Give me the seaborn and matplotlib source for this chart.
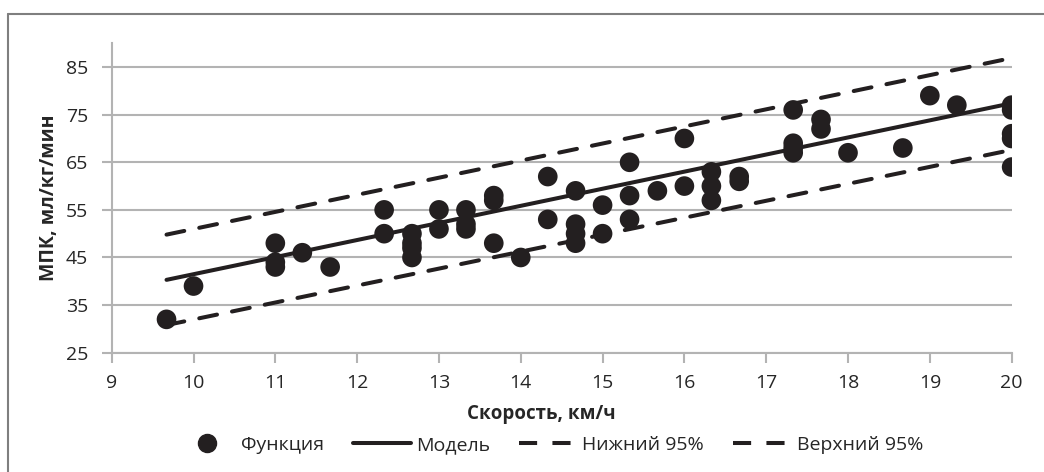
import numpy as np
import pandas as pd
import seaborn as sns
import matplotlib.pyplot as plt
from matplotlib.lines import Line2D

# measured points: speed (km/h) and VO2max (ml/kg/min)
speed = [9.67, 10, 11, 11, 11, 11.33, 11.67, 12.33, 12.33,
         12.67, 12.67, 12.67, 12.67, 13, 13, 13.33, 13.33, 13.33,
         13.67, 13.67, 13.67, 14, 14.33, 14.33, 14.67, 14.67, 14.67, 14.67,
         15, 15, 15.33, 15.33, 15.33, 15.67, 16, 16, 16.33, 16.33, 16.33,
         16.67, 16.67, 17.33, 17.33, 17.33, 17.33, 17.67, 17.67, 18, 18.67,
         19, 19.33, 20, 20, 20, 20, 20]
vo2 = [32, 39, 48, 44, 43, 46, 43, 55, 50,
       50, 48, 47, 45, 55, 51, 55, 52, 51,
       58, 57, 48, 45, 62, 53, 59, 52, 50, 48,
       56, 50, 65, 58, 53, 59, 70, 60, 63, 60, 57,
       62, 61, 76, 69, 68, 67, 74, 72, 67, 68,
       79, 77, 77, 76, 71, 70, 64]

# model line and 95% bounds (end points)
line_x = [9.67, 20]
model_y = [40.3, 77.4]
lower_y = [30.8, 67.6]
upper_y = [49.8, 86.9]

xticks = list(range(9, 21))
yticks = [25, 35, 45, 55, 65, 75, 85]

sns.set_theme(style="white")
plt.rcParams['font.family'] = ['Open Sans', 'DejaVu Sans']

black = '#231f20'
grey = '#b3b3b3'

pts = pd.DataFrame({'x': speed, 'y': vo2})
lines = pd.DataFrame({'x': line_x, 'model': model_y, 'lower': lower_y, 'upper': upper_y})

fig = plt.figure(figsize=(10.44, 4.72), dpi=100)
ax = fig.add_axes([0.107, 0.2528, 0.862, 0.6555])

sns.lineplot(data=lines, x='x', y='model', ax=ax, color=black, lw=2.9)
sns.lineplot(data=lines, x='x', y='lower', ax=ax, color=black, lw=2.9, dashes=False)
sns.lineplot(data=lines, x='x', y='upper', ax=ax, color=black, lw=2.9, dashes=False)
for l in ax.lines[1:]:
    l.set_dashes((4.5, 3.8))
    l.set_dash_capstyle('round')
sns.scatterplot(data=pts, x='x', y='y', ax=ax, color=black, s=200,
                edgecolor='none', zorder=3)

ax.set_xlim(9, 20)
ax.set_ylim(25, 90)
ax.set_xticks(xticks)
ax.set_yticks(yticks)
ax.grid(axis='y', color=grey, lw=1.5)
ax.set_axisbelow(True)
for s in ['top', 'right']:
    ax.spines[s].set_visible(False)
for s in ['left', 'bottom']:
    ax.spines[s].set_color(grey)
    ax.spines[s].set_linewidth(1.5)
ax.tick_params(axis='both', length=7, width=1.5, color=grey, labelsize=14,
               labelcolor='#262626', direction='out', left=True, bottom=True)
ax.tick_params(axis='x', pad=8)
ax.tick_params(axis='y', pad=10)

ax.set_xlabel('Скорость, км/ч', fontsize=13.5, fontweight='bold', color='#262626')
ax.xaxis.set_label_coords(0.477, -0.165)
ax.set_ylabel('МПК, мл/кг/мин', fontsize=14, fontweight='bold', color='#262626', labelpad=5)

handles = [
    Line2D([], [], color=black, marker='o', markersize=13, linestyle='none'),
    Line2D([], [], color=black, lw=2.9),
    Line2D([], [], color=black, lw=2.9, dashes=(4.5, 3.8)),
    Line2D([], [], color=black, lw=2.9, dashes=(4.5, 3.8)),
]
labels = ['Функция', 'Модель', 'Нижний 95%', 'Верхний 95%']
fig.legend(handles, labels, loc='center', bbox_to_anchor=(0.527, 0.057), ncol=4,
           frameon=False, fontsize=14, handlelength=3.0, handletextpad=0.25,
           columnspacing=1.5, labelcolor='#262626')

# outer frame (left and top edges visible)
fig.add_artist(Line2D([8 / 1044, 8 / 1044], [0, 1 - 14 / 472], color='#7f7f7f', lw=1.5))
fig.add_artist(Line2D([8 / 1044, 1], [1 - 14 / 472, 1 - 14 / 472], color='#7f7f7f', lw=1.5))

fig.savefig('out.png', dpi=100)
